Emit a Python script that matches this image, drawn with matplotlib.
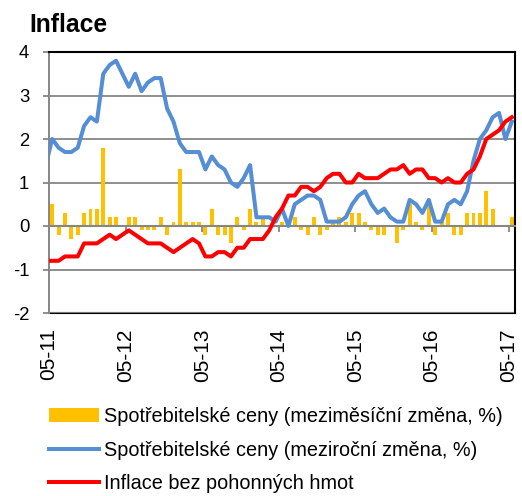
import matplotlib
matplotlib.use('Agg')
import matplotlib.pyplot as plt
import numpy as np

plt.rcParams['font.family'] = ['Liberation Sans', 'DejaVu Sans']
plt.rcParams['axes.unicode_minus'] = False

# monthly data 05/2011 - 05/2017
mom = [0.5, -0.2, 0.3, -0.3, -0.2, 0.3, 0.4, 0.4, 1.8, 0.2, 0.2, 0.0,
       0.2, 0.2, -0.1, -0.1, -0.1, 0.2, -0.2, 0.1, 1.3, 0.1, 0.1, 0.1,
       -0.2, 0.4, -0.2, -0.2, -0.4, 0.2, -0.1, 0.4, 0.1, 0.2, 0.0, 0.0,
       0.1, 0.0, 0.2, -0.1, -0.2, 0.2, -0.2, -0.1, 0.1, 0.2, 0.1, 0.3,
       0.3, 0.1, -0.1, -0.2, -0.2, 0.0, -0.4, -0.1, 0.5, 0.1, -0.1, 0.6,
       -0.2, 0.1, 0.3, -0.2, -0.2, 0.3, 0.3, 0.3, 0.8, 0.4, 0.0, 0.0,
       0.2]
yoy = [2.0, 1.8, 1.7, 1.7, 1.8, 2.3, 2.5, 2.4, 3.5, 3.7, 3.8, 3.5,
       3.2, 3.5, 3.1, 3.3, 3.4, 3.4, 2.7, 2.4, 1.9, 1.7, 1.7, 1.7,
       1.3, 1.6, 1.4, 1.3, 1.0, 0.9, 1.1, 1.4, 0.2, 0.2, 0.2, 0.1,
       0.4, 0.0, 0.5, 0.6, 0.7, 0.7, 0.6, 0.1, 0.1, 0.1, 0.2, 0.5,
       0.7, 0.8, 0.5, 0.3, 0.4, 0.2, 0.1, 0.1, 0.6, 0.5, 0.3, 0.6,
       0.1, 0.1, 0.5, 0.6, 0.5, 0.8, 1.5, 2.0, 2.2, 2.5, 2.6, 2.0,
       2.4]
core = [-0.8, -0.8, -0.7, -0.7, -0.7, -0.4, -0.4, -0.4, -0.3, -0.2, -0.3, -0.2,
        -0.1, -0.2, -0.3, -0.4, -0.4, -0.4, -0.5, -0.6, -0.5, -0.4, -0.3, -0.4,
        -0.7, -0.7, -0.6, -0.6, -0.7, -0.5, -0.5, -0.3, -0.3, -0.3, -0.1, 0.2,
        0.4, 0.7, 0.7, 0.9, 0.9, 0.8, 0.9, 1.1, 1.2, 1.2, 1.0, 1.0,
        1.2, 1.1, 1.1, 1.1, 1.2, 1.3, 1.3, 1.4, 1.2, 1.3, 1.3, 1.1,
        1.1, 1.0, 1.1, 1.0, 1.0, 1.2, 1.3, 1.6, 2.0, 2.1, 2.2, 2.4,
        2.5]
# 04/2011, cut off by the left edge
yoy_prev = 1.4
core_prev = -0.8

tick_labels = ['05-11', '05-12', '05-13', '05-14', '05-15', '05-16', '05-17']
labels = ['Spotřebitelské ceny (meziměsíční změna, %)',
          'Spotřebitelské ceny (meziroční změna, %)',
          'Inflace bez pohonných hmot']

n = len(mom)
x = np.arange(n) + 0.5
xl = np.concatenate(([-0.5], x))
grey = '#868686'

fig = plt.figure(figsize=(5.22, 4.96), dpi=100)
ax = fig.add_axes([49/522, 1 - 313/496, 466/522, 261/496])

b = ax.bar(x, mom, width=0.62, color='#FFC000', zorder=2)
l1, = ax.plot(xl, [yoy_prev] + yoy, color='#558ED5', lw=2.9, zorder=3)
l2, = ax.plot(xl, [core_prev] + core, color='#FF0000', lw=2.9, zorder=4)

ax.set_xlim(0, n)
ax.set_ylim(-2, 4)
ax.set_yticks(range(-2, 5))
ax.yaxis.grid(True, color=grey, lw=1.3, zorder=0)
ax.tick_params(axis='y', length=4.3, width=1.3, color=grey, pad=10, labelsize=13.3)

# category axis crosses at zero, labels sit at the bottom
ax.spines['bottom'].set_position(('data', 0))
ax.spines['bottom'].set_color(grey)
ax.spines['bottom'].set_linewidth(1.5)
ax.set_xticks(np.arange(0, n, 12))
ax.tick_params(axis='x', length=4.5, width=1.3, color=grey, direction='out', labelbottom=False)
ax.spines['left'].set_color(grey)
ax.spines['left'].set_linewidth(1.4)
for s in ['top', 'right']:
    ax.spines[s].set_color('black')
    ax.spines[s].set_linewidth(1.5)

sec = ax.secondary_xaxis('bottom')
sec.set_xticks(np.arange(0, n, 12), labels=tick_labels, rotation=90)
sec.tick_params(length=0, pad=11, labelsize=15)
sec.spines['bottom'].set_color('black')
sec.spines['bottom'].set_linewidth(1.5)

fig.text(29/522, 1 - 31.7/496, 'Inflace', fontsize=17.7, fontweight='bold', va='baseline')

fig.legend([b, l1, l2], labels, loc='upper left', bbox_to_anchor=(49/522, 1 - 407/496),
           frameon=False, fontsize=14.3, handlelength=2.53, handletextpad=0.25,
           labelspacing=0.74, borderpad=0, borderaxespad=0)

plt.savefig('out.png', dpi=100)
